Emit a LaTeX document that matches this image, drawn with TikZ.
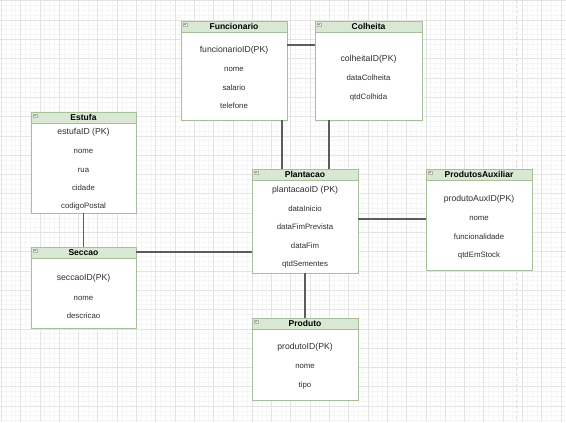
\documentclass[tikz,border=0pt]{standalone}
\usepackage{fontspec}
\setmainfont{Liberation Sans}
\usetikzlibrary{calc}
\definecolor{hdrgreen}{HTML}{D8E8D3}
\definecolor{boxline}{HTML}{A6BE9A}
\definecolor{linkgray}{HTML}{5C5C5C}
\definecolor{gridmajor}{HTML}{E4E4E4}
\definecolor{gridminor}{HTML}{F6F6F6}
\definecolor{txtgray}{HTML}{2E2E2E}

\begin{document}
\begin{tikzpicture}[x=0.75pt,y=-0.75pt]
\tikzstyle{tbl}=[draw=boxline, fill=white, line width=0.7pt, inner sep=0, outer sep=0, anchor=north west]
\tikzstyle{hdr}=[tbl, fill=hdrgreen, font=\fontsize{6.4}{7}\selectfont\bfseries, text=black]
\tikzstyle{icon}=[draw=gray!60, fill=gray!10, line width=0.3pt, minimum size=2.6pt, inner sep=0]
\tikzstyle{pkey}=[font=\fontsize{6.5}{7.5}\selectfont, text=txtgray]
\tikzstyle{field}=[font=\fontsize{5.85}{7}\selectfont, text=txtgray]
\tikzstyle{link}=[draw=linkgray, line width=0.8pt]
\useasboundingbox (0,0) rectangle (566,422);
% grid
\fill[white] (0,0) rectangle (566,422);
\foreach \i in {0,...,117}
    \draw[gridminor, line width=0.35pt] (\i*4.825+1.2,0) -- (\i*4.825+1.2,422);
\foreach \i in {0,...,87}
    \draw[gridminor, line width=0.35pt] (0,\i*4.825+0.7) -- (566,\i*4.825+0.7);
\foreach \i in {0,...,29}
    \draw[gridmajor, line width=0.45pt] (\i*19.3+1.2,0) -- (\i*19.3+1.2,422);
\foreach \i in {0,...,21}
    \draw[gridmajor, line width=0.45pt] (0,\i*19.3+0.7) -- (566,\i*19.3+0.7);
\draw[gray!25, line width=0.6pt, dash pattern=on 2pt off 2pt] (516,0) -- (516,422);
% tables
\foreach \id/\title/\xa/\ya/\xb/\yb in {funcionario/Funcionario/181/21/287/120,
    colheita/Colheita/315/21/422/120, estufa/Estufa/31/112/136/213,
    seccao/Seccao/31/247/136/328, plantacao/Plantacao/252/169/358/273,
    produtosaux/ProdutosAuxiliar/426/169/532/270, produto/Produto/252/318/358/400}
{
    \node[tbl, minimum width={(\xb-\xa)*0.75pt}, minimum height={(\yb-\ya)*0.75pt}] (\id) at (\xa,\ya) {};
    \node[hdr, minimum width={(\xb-\xa)*0.75pt}, minimum height=8.25pt] (\id-h) at (\xa,\ya) {\title};
    \node[icon] (\id-i) at (\xa+4,\ya+3.6) {};
    \draw[gray!80, line width=0.3pt] ($(\id-i.west)+(0.8,0)$) -- ($(\id-i.east)+(-0.8,0)$);
}
% attributes
\foreach \id/\txt/\y/\sz in {funcionario/funcionarioID(PK)/50/pkey, funcionario/nome/69/field,
    funcionario/salario/88/field, funcionario/telefone/106/field,
    colheita/colheitaID(PK)/59/pkey, colheita/dataColheita/78/field, colheita/qtdColhida/97/field,
    estufa/estufaID (PK)/132/pkey, estufa/nome/151/field, estufa/rua/170/field,
    estufa/cidade/188/field, estufa/codigoPostal/206/field,
    seccao/seccaoID(PK)/278/pkey, seccao/nome/298/field, seccao/descricao/316/field,
    plantacao/plantacaoID (PK)/190/pkey, plantacao/dataInicio/209/field,
    plantacao/dataFimPrevista/227/field, plantacao/dataFim/246/field, plantacao/qtdSementes/264/field,
    produtosaux/produtoAuxID(PK)/199/pkey, produtosaux/nome/218/field,
    produtosaux/funcionalidade/237/field, produtosaux/qtdEmStock/255/field,
    produto/produtoID(PK)/347/pkey, produto/nome/366/field, produto/tipo/385/field}
    \node[\sz] at (\id |- 0,\y) {\txt};
% relations
\draw[link] (funcionario.east |- 0,45) -- (colheita.west |- 0,45);
\draw[link] (funcionario.south -| 282,0) -- (plantacao.north -| 282,0);
\draw[link] (colheita.south -| 329,0) -- (plantacao.north -| 329,0);
\draw[link] (estufa.south) -- (seccao.north);
\draw[link] (seccao.east |- 0,252) -- (plantacao.west |- 0,252);
\draw[link] (plantacao.east |- 0,219) -- (produtosaux.west |- 0,219);
\draw[link] (plantacao.south) -- (produto.north);
\end{tikzpicture}
\end{document}
